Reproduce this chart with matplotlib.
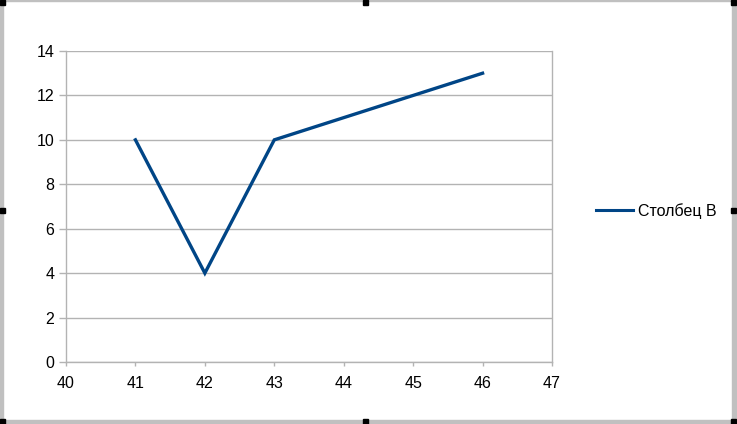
import matplotlib
matplotlib.use('Agg')
import matplotlib.pyplot as plt
from matplotlib.patches import Rectangle

# === Данные ===
x_vals = [41, 42, 43, 44, 45, 46]
y_vals = [10, 4, 10, 11, 12, 13]
series_name = 'Столбец B'
x_ticks = [40, 41, 42, 43, 44, 45, 46, 47]
y_ticks = [0, 2, 4, 6, 8, 10, 12, 14]

plt.rcParams['font.family'] = ['Liberation Sans', 'DejaVu Sans']

W, H = 737, 424
fig = plt.figure(figsize=(W / 100, H / 100), dpi=100)
fig.patch.set_facecolor('white')

ax = fig.add_axes([66 / W, 1 - 362 / H, (552 - 66) / W, (362 - 51) / H])
ax.plot(x_vals, y_vals, color='#004586', linewidth=2.4,
        solid_joinstyle='miter')

ax.set_xlim(40, 47)
ax.set_ylim(0, 14)
ax.set_xticks(x_ticks)
ax.set_yticks(y_ticks)
ax.yaxis.grid(True, color='#b3b3b3', linewidth=1)
ax.set_axisbelow(True)
for s in ax.spines.values():
    s.set_color('#b3b3b3')
    s.set_linewidth(1)
ax.spines['top'].set_visible(False)
ax.tick_params(axis='both', colors='#b3b3b3', width=1,
               labelcolor='black', labelsize=11.5)
ax.tick_params(axis='x', length=3, pad=7)
ax.tick_params(axis='y', length=5, pad=3.5)

# легенда
leg_line = plt.Line2D([], [], color='#004586', linewidth=2.2)
fig.legend(handles=[leg_line], labels=[series_name], loc='center left',
           bbox_to_anchor=(596 / W, 1 - 211 / H), frameon=False,
           borderpad=0, borderaxespad=0,
           fontsize=11.5, handlelength=2.3, handletextpad=0.3)

# рамка и маркеры выделения
gray = '#c0c0c0'
fig.patches.append(Rectangle((0, 0), 3 / W, 1, transform=fig.transFigure, color=gray, zorder=0))
fig.patches.append(Rectangle((0, 0), 1, 4 / H, transform=fig.transFigure, color=gray, zorder=0))
fig.patches.append(Rectangle((1 - 5 / W, 0), 5 / W, 1, transform=fig.transFigure, color=gray, zorder=0))
fig.patches.append(Rectangle((0, 1 - 1 / H), 1, 1 / H, transform=fig.transFigure, color=gray, zorder=0))
for hx, hy in [(0, 0), (363, 0), (731, 0), (0, 208), (731, 208), (0, 419), (363, 419), (731, 419)]:
    fig.patches.append(Rectangle((hx / W, 1 - (hy + 5) / H), 5 / W, 5 / H,
                                 transform=fig.transFigure, color='black', zorder=5))

fig.savefig('out.png', dpi=100)
